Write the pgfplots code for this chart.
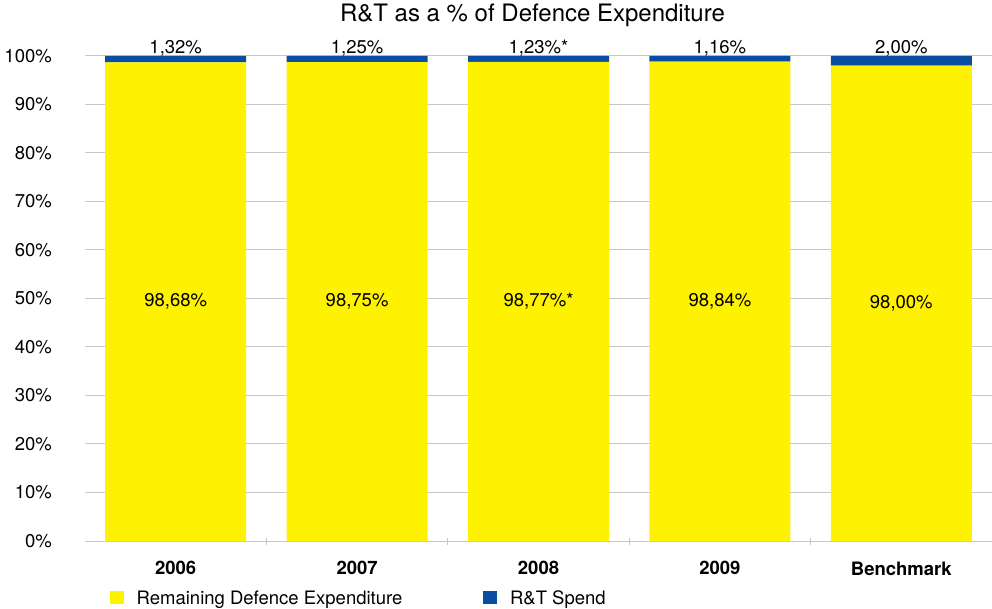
\documentclass[border=0pt]{standalone}
\usepackage{fontspec}
\setmainfont{TeX Gyre Heros}
\usepackage{pgfplots}
\usepackage{pgfplotstable}
\pgfplotsset{compat=1.18}
\definecolor{ylw}{HTML}{FFF200}
\definecolor{blu}{HTML}{0A4EA2}
\definecolor{grd}{HTML}{C8C8C8}

\pgfplotstableread{
x val lab
0 98.68 {98,68\%}
1 98.75 {98,75\%}
2 98.77 {98,77\%*}
3 98.84 {98,84\%}
4 98.00 {98,00\%}
}\remain
\pgfplotstableread{
x val lab
0 1.32 {1,32\%}
1 1.25 {1,25\%}
2 1.23 {1,23\%*}
3 1.16 {1,16\%}
4 2.00 {2,00\%}
}\rt

\begin{document}
\begin{tikzpicture}
\useasboundingbox (-85bp,-68bp) rectangle (907bp,541bp);
\begin{axis}[
  at={(0,0)}, anchor=south west,
  scale only axis, width=907bp, height=485bp,
  font=\fontsize{18.5bp}{22bp}\selectfont,
  xmin=-0.5, xmax=4.5, ymin=0, ymax=100,
  ybar stacked, bar width=141bp,
  axis x line*=bottom, axis y line*=left,
  y axis line style={draw=none},
  x axis line style={grd, line width=1bp},
  ymajorgrids, grid style={grd, line width=1bp},
  xtick={0,1,2,3,4}, xticklabels={2006,2007,2008,2009,Benchmark},
  minor xtick={0.5,1.5,2.5,3.5},
  major tick length=0pt, minor tick length=7bp, tick align=center,
  minor x tick style={grd, line width=1bp},
  ytick={0,10,...,100},
  yticklabels={0\%,10\%,20\%,30\%,40\%,50\%,60\%,70\%,80\%,90\%,100\%},
  xticklabel style={font=\fontsize{18.5bp}{22bp}\selectfont\bfseries, yshift=-17bp},
  yticklabel style={inner sep=0pt, xshift=-33bp},
  title={R\&T as a \% of Defence Expenditure},
  title style={font=\fontsize{24bp}{28bp}\selectfont, at={(0.5,1)}, anchor=base, yshift=28.5bp, xshift=-6bp},
  legend columns=2,
  legend style={at={(0.0276,-0.1175)}, anchor=west, draw=none, fill=none,
    inner sep=0pt, outer sep=0pt, nodes={inner sep=0pt},
    /tikz/every odd column/.append style={column sep=12.7bp},
    /tikz/every even column/.append style={column sep=81bp}},
  legend image code/.code={\path[#1, draw=none] (0bp,-6.5bp) rectangle (14bp,6.5bp);},
]
\addplot[fill=ylw, draw=none, nodes near coords, point meta=explicit symbolic,
  every node near coord/.append style={anchor=center, text=black}]
  table[x=x, y=val, meta=lab]{\remain};
\addplot[fill=blu, draw=none, nodes near coords, point meta=explicit symbolic,
  visualization depends on={\thisrow{val} \as \bv},
  every node near coord/.append style={anchor=base, inner sep=0pt, yshift={2.425bp*\bv+2bp}, text=black}]
  table[x=x, y=val, meta=lab]{\rt};
\legend{Remaining Defence Expenditure, R\&T Spend}
\end{axis}
\end{tikzpicture}
\end{document}
